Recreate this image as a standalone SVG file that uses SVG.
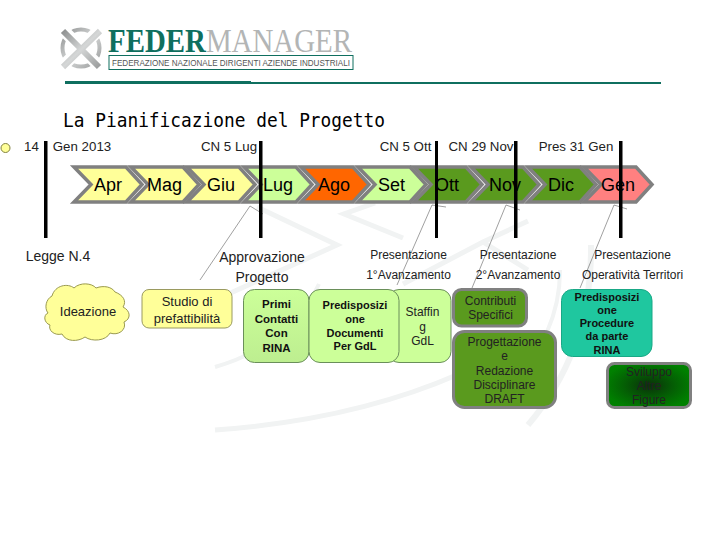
<svg xmlns="http://www.w3.org/2000/svg" width="720" height="540" viewBox="0 0 720 540">
<style>
text{font-family:"Liberation Sans",Arial,sans-serif;fill:#111;text-anchor:middle}
.l{font-size:13.300px;fill:#222}
.k{font-size:14px;fill:#222}
.m{font-size:18px;fill:#000}
.s{font-size:12px;fill:#222}
.t{font-size:13px;fill:#222}
.b{font-size:11.500px;font-weight:bold;fill:#111}
.d{font-size:11px;font-weight:bold;fill:#111}
.bar{fill:#000}
.ch{stroke:#808080;stroke-width:3.500}
.ld{fill:none;stroke:#777;stroke-width:.7}
.wm{fill:none;stroke:#f1f3f3}
.g{fill:#5a9a1e;stroke:#808080;stroke-width:3}
.lg{fill:#ccff99;stroke:#6a8f5a;stroke-width:1}
</style>
<defs>
<path id="c" d="M0,0H52L68,17.500L52,35H0L17,17.500Z"/>
<radialGradient id="dk" r=".55"><stop offset="0" stop-color="#0a300a"/><stop offset=".55" stop-color="#045f04"/><stop offset="1" stop-color="#008000"/></radialGradient>
<linearGradient id="lgr" x1="0" y1="0" x2="0" y2="1"><stop offset="0" stop-color="#ccff99"/><stop offset="1" stop-color="#bdee90"/></linearGradient>
<linearGradient id="ring" x1="0" y1="0" x2="1" y2="1"><stop offset="0" stop-color="#8f9191"/><stop offset=".5" stop-color="#d5d7d7"/><stop offset="1" stop-color="#9a9c9c"/></linearGradient>
</defs>
<rect width="720" height="540" fill="#fff"/>
<g id="watermark">
<path class="wm" stroke-width="5" d="M257,207L337,245L215,300"/>
<path class="wm" stroke-width="5" d="M375,203L344,214L403,238"/>
<path class="wm" stroke-width="5" d="M403,284L483,242L528,221M483,242L528,270"/>
<path class="wm" stroke-width="6" d="M591,245Q592,350 528,425"/>
<path class="wm" stroke-width="4" d="M560,270Q560,340 500,395"/>
<path class="wm" stroke-width="5" d="M215,430Q354,420 459,374"/>
<path class="wm" stroke-width="4" d="M215,367Q290,345 319,284"/>
</g>
<g id="logo">
<circle cx="81" cy="48" r="18.500" fill="none" stroke="url(#ring)" stroke-width="4"/>
<path fill="none" stroke="#fff" stroke-width="12" d="M64,31L98,65M98,31L64,65"/>
<path fill="none" stroke="url(#ring)" stroke-width="6" d="M63,31L99,67M100,31L63,67"/>
<text x="108" y="52" style="font-family:'Liberation Serif',serif;font-size:34px;text-anchor:start;fill:#b3b5b5" textLength="244" lengthAdjust="spacingAndGlyphs"><tspan style="font-weight:bold;fill:#0f6f5f">FEDER</tspan>MANAGER</text>
<rect x="109" y="55.500" width="244" height="14" fill="none" stroke="#0f6f5f" stroke-width="1"/>
<text x="231" y="66" style="font-size:8.500px;fill:#555" textLength="238" lengthAdjust="spacingAndGlyphs">FEDERAZIONE NAZIONALE DIRIGENTI AZIENDE INDUSTRIALI</text>
<rect x="65" y="81" width="186" height="3" fill="#0f6f5f"/>
<rect x="251" y="82" width="410" height="2" fill="#0f6f5f"/>
</g>
<text id="title" x="224" y="127" style="font-family:'DejaVu Sans Mono',monospace;font-size:20px;fill:#000" textLength="322" lengthAdjust="spacingAndGlyphs">La Pianificazione del Progetto</text>
<circle id="bullet" cx="5.500" cy="148" r="4.500" fill="#ffff99" stroke="#808040" stroke-width="1"/>
<g id="months">
<g id="m-apr"><use href="#c" x="74" y="167" fill="#ffff99" class="ch"/><text class="m" x="108" y="191">Apr</text></g>
<g id="m-mag"><use href="#c" x="131" y="167" fill="#ffff99" class="ch"/><text class="m" x="164.500" y="191">Mag</text></g>
<g id="m-giu"><use href="#c" x="187" y="167" fill="#ffff99" class="ch"/><text class="m" x="221" y="191">Giu</text></g>
<g id="m-lug"><use href="#c" x="244" y="167" fill="#ccff99" class="ch"/><text class="m" x="278" y="191">Lug</text></g>
<g id="m-ago"><use href="#c" x="301" y="167" fill="#ff6600" class="ch"/><text class="m" x="334" y="191">Ago</text></g>
<g id="m-set"><use href="#c" x="358" y="167" fill="#ccff99" class="ch"/><text class="m" x="391.500" y="191">Set</text></g>
<g id="m-ott"><use href="#c" x="414" y="167" fill="#5a9a1e" class="ch"/><text class="m" x="447" y="191">Ott</text></g>
<g id="m-nov"><use href="#c" x="471" y="167" fill="#5a9a1e" class="ch"/><text class="m" x="505" y="191">Nov</text></g>
<g id="m-dic"><use href="#c" x="528" y="167" fill="#5a9a1e" class="ch"/><text class="m" x="561" y="191">Dic</text></g>
<g id="m-gen"><use href="#c" x="584" y="167" fill="#ff8080" class="ch"/><text class="m" x="618" y="191">Gen</text></g>
</g>
<g id="connectors">
<path class="ld" d="M200,280L250,206L263,214"/>
<path class="ld" d="M397,285L432,205L446,207"/>
<path class="ld" d="M472,288L506,205L520,210"/>
<path class="ld" d="M580,288L614,205L627,209"/>
</g>
<g id="milestones">
<rect class="bar" x="44" y="141" width="3.500" height="97"/>
<rect class="bar" x="259" y="141" width="3.500" height="97"/>
<rect class="bar" x="435" y="141" width="3" height="97"/>
<rect class="bar" x="514" y="141" width="3.500" height="97"/>
<rect class="bar" x="619" y="141" width="3.500" height="97"/>
</g>
<g id="dates">
<text class="l" x="31.500" y="151">14</text>
<text class="l" x="82" y="151">Gen 2013</text>
<text class="l" x="229" y="151">CN 5 Lug</text>
<text class="l" x="405.500" y="151">CN 5 Ott</text>
<text class="l" x="481" y="151">CN 29 Nov</text>
<text class="l" x="576" y="151">Pres 31 Gen</text>
</g>
<g id="notes">
<text class="k" x="58" y="261">Legge N.4</text>
<text class="k" x="262" y="262">Approvazione</text>
<text class="k" x="262" y="282">Progetto</text>
<text class="s" x="408.500" y="259">Presentazione</text>
<text class="s" x="408.500" y="279">1°Avanzamento</text>
<text class="s" x="518" y="259">Presentazione</text>
<text class="s" x="518" y="279">2°Avanzamento</text>
<text class="s" x="632.500" y="259">Presentazione</text>
<text class="s" x="632.500" y="279">Operatività Territori</text>
</g>
<g id="ideazione">
<path fill="#ffff99" stroke="#9a9a50" stroke-width="1" d="M52,296C55,285 68,283 74,288C80,282 92,283 96,288C104,285 112,287 115,292C123,295 127,301 123,307C131,311 131,319 124,322C127,330 118,336 110,333C106,341 92,342 85,337C78,342 66,342 62,334C54,336 48,330 50,325C44,323 43,315 48,313C44,308 46,299 52,296Z"/>
<text class="t" x="88" y="316">Ideazione</text>
</g>
<g id="studio">
<rect x="142" y="289.500" width="90" height="38.500" rx="7" fill="#ffff99" stroke="#9a9a60"/>
<text class="t" x="187" y="306">Studio di</text><text class="t" x="187" y="323">prefattibilità</text>
</g>
<g id="primi">
<rect x="243.500" y="289.500" width="65.500" height="73" rx="11" fill="url(#lgr)" stroke="#6a8f5a"/>
<text class="b" x="276.500" y="308">Primi</text><text class="b" x="276.500" y="323">Contatti</text><text class="b" x="276.500" y="337">Con</text><text class="b" x="276.500" y="352">RINA</text>
</g>
<g id="staffing">
<rect x="388" y="289.500" width="63" height="73" rx="11" class="lg"/>
<text class="s" x="422.500" y="316">Staffin</text><text class="s" x="422.500" y="331">g</text><text class="s" x="422.500" y="345">GdL</text>
</g>
<g id="predisp">
<rect x="309" y="289.500" width="90" height="73" rx="11" class="lg"/>
<text class="d" x="355" y="309">Predisposizi</text><text class="d" x="355" y="323">one</text><text class="d" x="355" y="337">Documenti</text><text class="d" x="355" y="350">Per GdL</text>
</g>
<g id="contributi">
<rect x="453.500" y="289.500" width="73" height="36.500" rx="8" class="g"/>
<text class="s" x="490.500" y="305">Contributi</text><text class="s" x="490.500" y="319">Specifici</text>
</g>
<g id="progettazione">
<rect x="453.500" y="331.500" width="102" height="76" rx="11" class="g"/>
<text class="s" x="504.500" y="346">Progettazione</text><text class="s" x="504.500" y="360">e</text><text class="s" x="504.500" y="375">Redazione</text><text class="s" x="504.500" y="389">Disciplinare</text><text class="s" x="504.500" y="403">DRAFT</text>
</g>
<g id="predisp2">
<rect x="561.500" y="289.500" width="90.500" height="67" rx="11" fill="#1fc79f" stroke="#19a886"/>
<text class="d" x="607" y="301">Predisposizi</text><text class="d" x="607" y="314">one</text><text class="d" x="607" y="327">Procedure</text><text class="d" x="607" y="340">da parte</text><text class="d" x="607" y="354">RINA</text>
</g>
<g id="sviluppo">
<rect x="607.500" y="363.500" width="83" height="44" rx="7" fill="url(#dk)" stroke="#808080" stroke-width="3"/>
<text class="s" x="649" y="376">Sviluppo</text><text class="s" x="649" y="390">Altre</text><text class="s" x="649" y="404">Figure</text>
</g>
</svg>
